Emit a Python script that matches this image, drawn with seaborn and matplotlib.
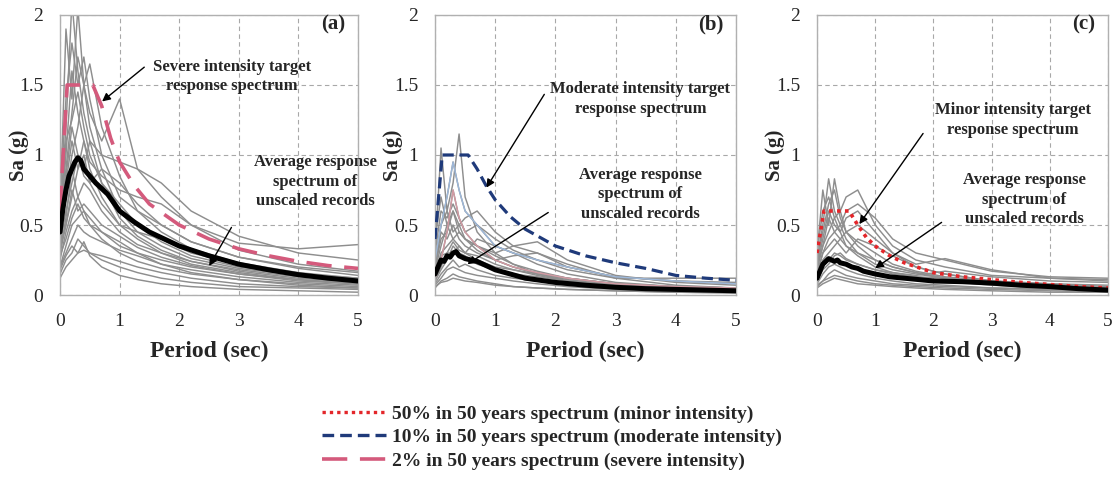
import numpy as np
import pandas as pd
import matplotlib
matplotlib.use("Agg")
import matplotlib.pyplot as plt
from matplotlib.lines import Line2D
import seaborn as sns

# ---------------- data ----------------
PERIOD_REC = [0, 0.1, 0.2, 0.3, 0.4, 0.5, 0.7, 1.0, 1.3, 1.7, 2.2, 3.0, 4.0, 5.0]

REC_A = [
    [0.55, 1.2, 2.1, 1.6, 1.3, 1.1, 0.8, 0.55, 0.42, 0.32, 0.24, 0.17, 0.12, 0.09],
    [0.6, 1.9, 1.4, 2.05, 1.5, 1.2, 0.9, 0.6, 0.45, 0.35, 0.26, 0.19, 0.14, 0.11],
    [0.45, 0.9, 1.3, 1.7, 1.5, 1.65, 1.2, 0.85, 0.6, 0.45, 0.33, 0.23, 0.16, 0.12],
    [0.4, 0.7, 1.0, 1.2, 1.5, 1.3, 1.1, 1.4, 0.9, 0.7, 0.5, 0.32, 0.22, 0.17],
    [0.35, 0.6, 0.8, 1.0, 0.9, 1.1, 1.0, 0.95, 0.9, 0.8, 0.6, 0.42, 0.3, 0.25],
    [0.3, 0.5, 0.7, 0.9, 1.1, 0.95, 0.85, 0.75, 0.7, 0.65, 0.5, 0.37, 0.33, 0.36],
    [0.25, 0.45, 0.6, 0.7, 0.8, 0.75, 0.6, 0.45, 0.36, 0.3, 0.24, 0.18, 0.13, 0.1],
    [0.2, 0.35, 0.5, 0.55, 0.6, 0.5, 0.4, 0.3, 0.24, 0.19, 0.15, 0.11, 0.08, 0.06],
    [0.15, 0.25, 0.3, 0.4, 0.35, 0.3, 0.25, 0.2, 0.16, 0.12, 0.09, 0.06, 0.05, 0.04],
    [0.12, 0.2, 0.25, 0.3, 0.38, 0.28, 0.2, 0.14, 0.11, 0.08, 0.06, 0.04, 0.03, 0.02],
    [0.5, 1.0, 1.6, 1.3, 1.1, 0.9, 0.7, 0.5, 0.4, 0.3, 0.22, 0.16, 0.11, 0.08],
    [0.4, 0.8, 1.1, 0.9, 1.0, 0.8, 0.65, 0.5, 0.45, 0.4, 0.3, 0.22, 0.15, 0.11],
    [0.3, 0.55, 0.9, 0.7, 0.6, 0.55, 0.45, 0.35, 0.3, 0.25, 0.2, 0.15, 0.11, 0.08],
    [0.65, 1.4, 1.8, 1.5, 1.7, 1.4, 1.0, 0.7, 0.6, 0.5, 0.38, 0.27, 0.19, 0.14],
    [0.2, 0.3, 0.4, 0.5, 0.45, 0.42, 0.38, 0.32, 0.28, 0.22, 0.18, 0.13, 0.09, 0.07],
    [0.35, 0.5, 0.75, 0.6, 0.65, 0.6, 0.5, 0.42, 0.34, 0.27, 0.21, 0.15, 0.1, 0.08],
    [0.28, 0.4, 0.55, 0.65, 0.55, 0.5, 0.45, 0.38, 0.3, 0.22, 0.16, 0.11, 0.07, 0.05],
    [0.45, 1.1, 1.25, 1.45, 1.2, 1.0, 0.8, 0.65, 0.5, 0.38, 0.28, 0.2, 0.15, 0.12],
    [0.18, 0.28, 0.35, 0.3, 0.32, 0.3, 0.28, 0.24, 0.2, 0.16, 0.12, 0.08, 0.06, 0.05],
    [0.5, 0.85, 1.2, 1.0, 0.85, 0.8, 0.9, 0.8, 0.65, 0.5, 0.38, 0.27, 0.2, 0.16],
]

REC_B = [
    [0.3, 1.05, 0.6, 0.8, 1.15, 0.7, 0.45, 0.3, 0.22, 0.15, 0.1, 0.07, 0.05, 0.04],
    [0.25, 0.5, 0.7, 0.95, 0.75, 0.6, 0.5, 0.35, 0.3, 0.25, 0.2, 0.13, 0.1, 0.08],
    [0.2, 0.4, 0.45, 0.6, 0.5, 0.55, 0.6, 0.45, 0.35, 0.3, 0.2, 0.13, 0.1, 0.09],
    [0.15, 0.3, 0.35, 0.4, 0.45, 0.4, 0.35, 0.3, 0.35, 0.38, 0.25, 0.14, 0.09, 0.07],
    [0.1, 0.2, 0.3, 0.3, 0.35, 0.3, 0.25, 0.2, 0.18, 0.15, 0.12, 0.08, 0.05, 0.04],
    [0.08, 0.15, 0.2, 0.25, 0.2, 0.22, 0.18, 0.14, 0.12, 0.1, 0.07, 0.05, 0.03, 0.02],
    [0.05, 0.1, 0.12, 0.15, 0.13, 0.12, 0.1, 0.08, 0.06, 0.05, 0.04, 0.03, 0.02, 0.015],
    [0.2, 0.45, 0.4, 0.5, 0.4, 0.35, 0.3, 0.25, 0.28, 0.3, 0.22, 0.12, 0.07, 0.05],
    [0.12, 0.25, 0.45, 0.75, 0.55, 0.45, 0.35, 0.25, 0.2, 0.16, 0.12, 0.08, 0.06, 0.05],
    [0.18, 0.35, 0.5, 0.4, 0.35, 0.3, 0.28, 0.22, 0.18, 0.14, 0.1, 0.07, 0.05, 0.04],
    [0.07, 0.12, 0.18, 0.2, 0.18, 0.16, 0.14, 0.12, 0.1, 0.08, 0.06, 0.04, 0.03, 0.02],
    [0.1, 0.18, 0.25, 0.35, 0.3, 0.28, 0.22, 0.18, 0.15, 0.13, 0.1, 0.07, 0.05, 0.04],
    [0.3, 0.6, 0.55, 0.65, 0.55, 0.45, 0.5, 0.4, 0.32, 0.25, 0.18, 0.12, 0.12, 0.12],
    [0.4, 0.7, 0.5, 0.6, 0.45, 0.4, 0.35, 0.28, 0.22, 0.17, 0.12, 0.08, 0.06, 0.05],
    [0.06, 0.09, 0.1, 0.12, 0.11, 0.1, 0.09, 0.07, 0.06, 0.05, 0.04, 0.03, 0.02, 0.015],
    [0.22, 0.5, 0.6, 0.45, 0.5, 0.4, 0.32, 0.25, 0.2, 0.15, 0.11, 0.07, 0.05, 0.04],
    [0.14, 0.28, 0.3, 0.38, 0.32, 0.3, 0.4, 0.35, 0.3, 0.22, 0.15, 0.09, 0.06, 0.05],
]

REC_C = [
    [0.3, 0.75, 0.5, 0.83, 0.6, 0.45, 0.35, 0.25, 0.2, 0.16, 0.12, 0.09, 0.06, 0.05],
    [0.25, 0.5, 0.83, 0.6, 0.5, 0.4, 0.3, 0.22, 0.18, 0.15, 0.12, 0.08, 0.06, 0.04],
    [0.2, 0.35, 0.45, 0.55, 0.6, 0.7, 0.75, 0.5, 0.35, 0.25, 0.2, 0.14, 0.12, 0.11],
    [0.15, 0.3, 0.4, 0.45, 0.5, 0.6, 0.65, 0.55, 0.4, 0.3, 0.25, 0.17, 0.13, 0.12],
    [0.12, 0.25, 0.3, 0.35, 0.4, 0.45, 0.5, 0.4, 0.3, 0.22, 0.26, 0.18, 0.12, 0.1],
    [0.1, 0.2, 0.25, 0.3, 0.28, 0.25, 0.22, 0.18, 0.15, 0.13, 0.12, 0.1, 0.08, 0.07],
    [0.08, 0.15, 0.2, 0.22, 0.2, 0.18, 0.15, 0.12, 0.1, 0.08, 0.07, 0.05, 0.04, 0.03],
    [0.05, 0.08, 0.1, 0.12, 0.11, 0.1, 0.08, 0.07, 0.06, 0.05, 0.04, 0.03, 0.02, 0.02],
    [0.2, 0.4, 0.6, 0.5, 0.45, 0.35, 0.28, 0.2, 0.16, 0.13, 0.1, 0.07, 0.05, 0.04],
    [0.15, 0.3, 0.35, 0.4, 0.35, 0.3, 0.4, 0.35, 0.28, 0.2, 0.15, 0.1, 0.07, 0.05],
    [0.1, 0.18, 0.22, 0.28, 0.3, 0.26, 0.22, 0.18, 0.16, 0.14, 0.17, 0.13, 0.1, 0.09],
    [0.07, 0.1, 0.15, 0.18, 0.16, 0.14, 0.12, 0.1, 0.08, 0.07, 0.06, 0.05, 0.04, 0.03],
    [0.3, 0.6, 0.7, 0.55, 0.45, 0.55, 0.6, 0.45, 0.3, 0.2, 0.15, 0.1, 0.07, 0.05],
    [0.18, 0.35, 0.55, 0.45, 0.4, 0.35, 0.3, 0.25, 0.2, 0.16, 0.12, 0.08, 0.06, 0.04],
    [0.06, 0.1, 0.12, 0.14, 0.13, 0.12, 0.1, 0.08, 0.07, 0.06, 0.05, 0.04, 0.03, 0.02],
    [0.22, 0.45, 0.65, 0.75, 0.55, 0.45, 0.38, 0.3, 0.22, 0.17, 0.13, 0.1, 0.08, 0.06],
]

PERIOD_AVG = [0, 0.05, 0.1, 0.15, 0.2, 0.25, 0.3, 0.35, 0.4, 0.5, 0.6, 0.7, 0.8,
              1.0, 1.25, 1.5, 2.0, 2.5, 3.0, 3.5, 4.0, 4.5, 5.0]
AVG_A = [0.45, 0.62, 0.75, 0.85, 0.9, 0.95, 0.98, 0.96, 0.9, 0.85, 0.8, 0.76, 0.72,
         0.6, 0.52, 0.45, 0.35, 0.28, 0.22, 0.18, 0.145, 0.12, 0.1]
AVG_B = [0.15, 0.2, 0.25, 0.24, 0.28, 0.27, 0.3, 0.31, 0.28, 0.26, 0.25, 0.24, 0.22,
         0.18, 0.15, 0.12, 0.09, 0.07, 0.055, 0.045, 0.04, 0.035, 0.03]
AVG_C = [0.12, 0.17, 0.22, 0.24, 0.26, 0.25, 0.24, 0.25, 0.23, 0.22, 0.2, 0.19, 0.17,
         0.15, 0.13, 0.12, 0.1, 0.095, 0.085, 0.07, 0.06, 0.045, 0.035]

PERIOD_TGT = [0, 0.12, 0.55, 0.7, 0.85, 1.0, 1.25, 1.5, 2.0, 2.5, 3.0, 3.5, 4.0, 4.5, 5.0]
TGT_SEVERE = [0.6, 1.5, 1.5, 1.35, 1.12, 0.95, 0.78, 0.65, 0.5, 0.4, 0.33, 0.28, 0.24, 0.21, 0.19]
TGT_MODERATE = [0.4, 1.0, 1.0, 0.9, 0.78, 0.68, 0.56, 0.47, 0.35, 0.28, 0.23, 0.19, 0.14, 0.12, 0.105]
TGT_MINOR = [0.3, 0.6, 0.6, 0.5, 0.41, 0.35, 0.28, 0.23, 0.16, 0.13, 0.11, 0.09, 0.075, 0.06, 0.05]

PANEL_TAGS = ["(a)", "(b)", "(c)"]
TARGET_TEXT = ["Severe intensity target\nresponse spectrum",
               "Moderate intensity target\nresponse spectrum",
               "Minor intensity target\nresponse spectrum"]
AVG_TEXT = "Average response\nspectrum of\nunscaled records"
LEGEND_LABELS = ["50% in 50 years spectrum (minor intensity)",
                 "10% in 50 years spectrum (moderate intensity)",
                 "2% in 50 years spectrum (severe intensity)"]
X_TICKS = [0, 1, 2, 3, 4, 5]
Y_TICKS = [0, 0.5, 1, 1.5, 2]
Y_TICK_LABELS = ["0", "0.5", "1", "1.5", "2"]

# ---------------- style ----------------
sns.set_theme(style="white")
plt.rcParams["font.family"] = ["Liberation Serif", "DejaVu Serif"]

W, H = 1119, 486
fig = plt.figure(figsize=(W / 100, H / 100), dpi=100)

axes_px = [(60, 358), (435, 736), (817, 1108)]
top_px, bot_px = 15, 295

C_SEVERE = "#d45a7c"
C_MODERATE = "#1f3a7a"
C_MINOR = "#e3262a"
C_GRAY = "#8e8e8e"

records = [REC_A, REC_B, REC_C]
avgs = [AVG_A, AVG_B, AVG_C]
targets = [(TGT_SEVERE, C_SEVERE, (0, (7, 3.5)), 2.6),
           (TGT_MODERATE, C_MODERATE, (0, (3.5, 1.8)), 2.3),
           (TGT_MINOR, C_MINOR, (0, (1, 1.2)), 2.6)]

# annotation positions (data coords): text centre, arrow tail, arrow head
tgt_ann = [((2.89, 1.56), (1.45, 1.64), (0.67, 1.37)),
           ((3.41, 1.40), (1.84, 1.45), (0.83, 0.75)),
           ((3.37, 1.25), (1.85, 1.17), (0.70, 0.49))]
avg_ann = [((4.28, 0.81), (2.90, 0.50), (2.48, 0.19)),
           ((3.41, 0.72), (1.92, 0.60), (0.50, 0.21)),
           ((3.56, 0.68), (2.18, 0.53), (0.96, 0.18))]
ylabel_x = [-0.105, -0.105, -0.11]

for i in range(3):
    l, r = axes_px[i]
    ax = fig.add_axes([l / W, (H - bot_px) / H, (r - l) / W, (bot_px - top_px) / H])

    # individual records
    rows = []
    for k, rec in enumerate(records[i]):
        for p, v in zip(PERIOD_REC, rec):
            rows.append({"period": p, "sa": v, "rec": k})
    df = pd.DataFrame(rows)
    sns.lineplot(data=df, x="period", y="sa", units="rec", estimator=None,
                 color=C_GRAY, lw=1.05, ax=ax, zorder=2)
    if i == 1:
        for k, col in [(1, "#9db8da"), (8, "#d39aa3")]:
            sub = df[df["rec"] == k]
            sns.lineplot(data=sub, x="period", y="sa", color=col, lw=1.0,
                         ax=ax, zorder=2.1)

    # target spectrum
    tv, tc, tls, tlw = targets[i]
    sns.lineplot(x=PERIOD_TGT, y=tv, color=tc, linestyle=tls, lw=tlw, ax=ax, zorder=3)

    # average spectrum
    sns.lineplot(x=PERIOD_AVG, y=avgs[i], color="black", lw=3.6, ax=ax, zorder=4)

    ax.set_xlim(0, 5)
    ax.set_ylim(0, 2)
    ax.set_xticks(X_TICKS)
    ax.set_xticklabels([str(t) for t in X_TICKS])
    ax.set_yticks(Y_TICKS)
    ax.set_yticklabels(Y_TICK_LABELS)
    ax.tick_params(axis="both", labelsize=14, length=4, width=0.8,
                   color="#9a9a9a", direction="out", pad=9)
    ax.tick_params(axis="y", pad=8)
    ax.grid(True, linestyle=(0, (4, 3)), color="#a8a8a8", lw=0.8)
    for s in ax.spines.values():
        s.set_color("#b0b0b0")
        s.set_linewidth(1.0)
    ax.set_xlabel("Period (sec)", fontsize=17, fontweight="bold", labelpad=8)
    ax.set_ylabel("Sa (g)", fontsize=15, fontweight="bold")
    ax.yaxis.set_label_coords(ylabel_x[i], 0.5)

    ax.text(4.58, 1.93, PANEL_TAGS[i], fontsize=15, fontweight="bold",
            ha="center", va="center", zorder=6)

    (tx, ty), tail, head = tgt_ann[i]
    ax.text(tx, ty, TARGET_TEXT[i], fontsize=12, fontweight="bold",
            ha="center", va="center", multialignment="center",
            linespacing=1.3, zorder=6)
    ax.annotate("", xy=head, xytext=tail,
                arrowprops=dict(arrowstyle="-|>", color="black", lw=1.0,
                                mutation_scale=12), zorder=6)

    (tx, ty), tail, head = avg_ann[i]
    ax.text(tx, ty, AVG_TEXT, fontsize=12, fontweight="bold",
            ha="center", va="center", multialignment="center",
            linespacing=1.3, zorder=6)
    ax.annotate("", xy=head, xytext=tail,
                arrowprops=dict(arrowstyle="-|>", color="black", lw=1.0,
                                mutation_scale=12), zorder=6)

# legend
handles = [Line2D([], [], color=C_MINOR, linestyle=(0, (1, 1.2)), lw=2.4),
           Line2D([], [], color=C_MODERATE, linestyle=(0, (3.5, 1.8)), lw=2.4),
           Line2D([], [], color=C_SEVERE, linestyle=(0, (7, 3.5)), lw=2.6)]
fig.legend(handles, LEGEND_LABELS, loc="upper left",
           bbox_to_anchor=(322 / W, 1 - 405 / H), frameon=False,
           prop={"family": ["Liberation Serif"], "weight": "bold", "size": 14},
           handlelength=3.3, handletextpad=0.3, labelspacing=0.3,
           borderaxespad=0, borderpad=0)

fig.savefig("out.png", dpi=100)
